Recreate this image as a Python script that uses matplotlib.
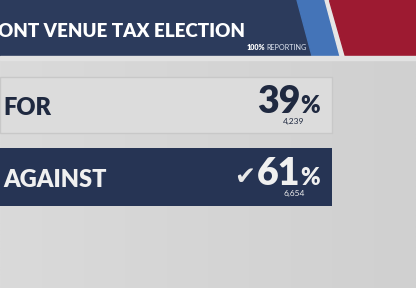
import numpy as np
import matplotlib.pyplot as plt
from matplotlib.colors import LinearSegmentedColormap
from matplotlib.patches import Polygon

# data
title = "ONT VENUE TAX ELECTION"
reporting_pct = 100
choices = ["FOR", "AGAINST"]
percents = [39, 61]
votes = [4239, 6654]
winner = "AGAINST"

navy = "#263454"
box_light = "#dcdcdc"

fig = plt.figure(figsize=(4.16, 2.88), dpi=100)
ax = fig.add_axes([0, 0, 1, 1])
ax.set_xlim(0, 416)
ax.set_ylim(288, 0)
ax.axis("off")

# background with a soft gradient
g = np.outer(np.ones(2), np.linspace(0, 1, 256))
ax.imshow(g, extent=[0, 416, 288, 0], aspect="auto", zorder=0,
          cmap=LinearSegmentedColormap.from_list("bg", ["#dadada", "#d0d0d0"]))

# header band
ax.add_patch(Polygon([(0, 0), (300, 0), (315, 56), (0, 56)], color="#2c3b5c", zorder=1))
ax.add_patch(Polygon([(297, 0), (325, 0), (340, 56), (312, 56)], color="#4474b8", zorder=2))
ax.add_patch(Polygon([(325, 0), (329, 0), (345, 56), (340, 56)], color="#e6e6e6", zorder=2))
ax.add_patch(Polygon([(329, 0), (416, 0), (416, 56), (345, 56)], color="#9d1a31", zorder=2))
ax.add_patch(Polygon([(0, 56), (416, 56), (416, 60), (0, 60)], color="#e2e2e2", zorder=2))

ax.text(-2, 37, title, color="white", fontsize=13.5, fontweight="heavy",
        family="Lato", va="baseline", ha="left", zorder=3)
ax.text(247, 50, f"{reporting_pct}%", color="white", fontsize=5.2, fontweight="heavy",
        family="Lato", va="baseline", ha="left", zorder=3)
ax.text(266, 50, "REPORTING", color="#dde3ee", fontsize=5.2,
        family="Lato", va="baseline", ha="left", zorder=3)

# result rows
ys = [105, 177]
heights = [56, 58]
for name, pct, v, y, h in zip(choices, percents, votes, ys, heights):
    win = name == winner
    face = navy if win else box_light
    ax.barh(y, 332, height=h, left=0, color=face,
            edgecolor="none" if win else "#c8c8c8", linewidth=1, zorder=3)
    fg = "#f0f0f0" if win else "#1f2940"
    base = y + 8
    ax.text(3, base + 2, name, color=fg, fontsize=17, fontweight="heavy",
            family="Lato", va="baseline", ha="left", zorder=4)
    ax.text(300, base, f"{pct}", color=fg, fontsize=27, fontweight="heavy",
            family="Lato", va="baseline", ha="right", zorder=4)
    ax.text(300, base, "%", color=fg, fontsize=17, fontweight="heavy",
            family="Lato", va="baseline", ha="left", zorder=4)
    ax.text(294, base + 11, f"{v:,}", color=fg, fontsize=6, family="Lato",
            va="baseline", ha="center", zorder=4)
    if win:
        ax.text(245, base - 1, "\u2714", color="#e8e8e8", fontsize=18,
                family="DejaVu Sans", va="baseline", ha="center", zorder=4)

fig.savefig("out.png", dpi=100)
